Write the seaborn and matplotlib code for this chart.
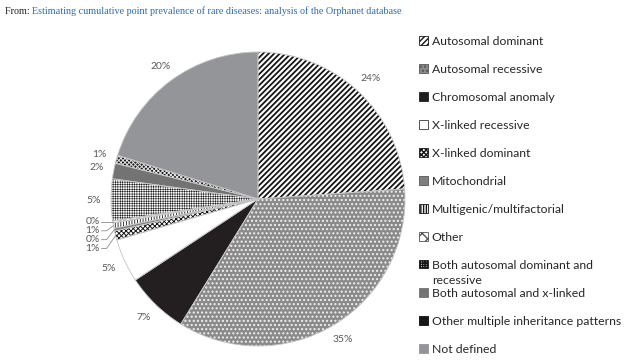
import matplotlib
matplotlib.use("Agg")
import matplotlib.pyplot as plt
import matplotlib.patches as mpatches
import seaborn as sns
import numpy as np

# ---------------- data ----------------
categories = [
    "Autosomal dominant",
    "Autosomal recessive",
    "Chromosomal anomaly",
    "X-linked recessive",
    "X-linked dominant",
    "Mitochondrial",
    "Multigenic/multifactorial",
    "Other",
    "Both autosomal dominant and\nrecessive",
    "Both autosomal and x-linked",
    "Other multiple inheritance patterns",
    "Not defined",
]
shares = [23.9, 34.9, 6.9, 4.8, 1.0, 0.3, 0.6, 0.2, 4.6, 1.7, 0.9, 20.2]
title_prefix = "From: "
title_link = "Estimating cumulative point prevalence of rare diseases: analysis of the Orphanet database"

# ---------------- styles ----------------
fills = ["white", "#8a8a8a", "#231f20", "white", "white", "#7f7f7f",
         "white", "white", "white", "#737373", "#1c1c1c", "#939598"]
hatch_cols = ["#151515", "#f0f0f0", "#231f20", "white", "#151515", "#7f7f7f",
              "#151515", "#555555", "#222222", "#737373", "#e0e0e0", "#939598"]
hatches = ["//////", "....", None, None, "xxxxxxx", None, "||||||", "xxx",
           "+++++++", None, "xxxxxxxx", None]
hatch_lws = [1.3, 1.0, 1.0, 1.0, 0.7, 1.0, 0.6, 0.5, 0.4, 1.0, 0.7, 1.0]
legend_edges = ["#151515", "#555555", "#231f20", "#333333", "#151515", "#555555",
                "#151515", "#555555", "#151515", "#737373", "#151515", "#939598"]

sns.set_theme(style="white")
plt.rcParams["font.family"] = ["Lato", "DejaVu Sans"]

W, H = 630, 360
fig = plt.figure(figsize=(W / 100, H / 100), dpi=100)
fig.patch.set_facecolor("white")

# pie center / radius in pixels
cx, cy, R = 258, 199, 147
half = 1.25 * R
ax = fig.add_axes([(cx - half) / W, (H - cy - half) / H, 2 * half / W, 2 * half / H])

wedges, _ = ax.pie(shares, startangle=90, counterclock=False, colors=fills,
                   radius=1, wedgeprops=dict(linewidth=0))
for w, h, hc, hlw in zip(wedges, hatches, hatch_cols, hatch_lws):
    w.set_edgecolor(hc)
    w.set_linewidth(0)
    if h:
        w.set_hatch(h)
        if hasattr(w, "set_hatch_linewidth"):
            w.set_hatch_linewidth(hlw)

# outline
ax.pie(shares, startangle=90, counterclock=False, radius=1,
       wedgeprops=dict(linewidth=0.6, edgecolor="#c4c4c4", fill=False))
ax.set_xlim(-1.25, 1.25)
ax.set_ylim(-1.25, 1.25)
ax.set_aspect("equal")
ax.axis("off")

# ---------------- percent labels ----------------
lab_kw = dict(fontsize=7.5, color="#595959", ha="center", va="center")
small = [4, 5, 6, 7]
mids = [np.deg2rad((w.theta1 + w.theta2) / 2) for w in wedges]
top_small_y = np.sin(mids[7])
for i, (w, v) in enumerate(zip(wedges, shares)):
    txt = f"{v:.0f}%"
    a = mids[i]
    if i in small:
        k = 7 - i
        ly = top_small_y - 0.06 * k
        lx = -1.075
        ex, ey = np.cos(a), np.sin(a)
        ax.plot([lx + 0.01, lx + 0.045, ex], [ly, ly, ey], color="#8c8c8c", lw=0.6)
        ax.text(lx, ly, txt, fontsize=7.5, color="#595959", ha="right", va="center")
    else:
        ax.text(1.12 * np.cos(a), 1.12 * np.sin(a), txt, **lab_kw)

# ---------------- legend ----------------
handles = []
for f, h, e, hlw in zip(fills, hatches, legend_edges, hatch_lws):
    p = mpatches.Patch(facecolor=f, edgecolor=e, hatch=h, linewidth=0.6)
    handles.append(p)

leg_kw = dict(loc="upper left", frameon=False, fontsize=8.8, handlelength=0.7,
              handleheight=0.7, handletextpad=0.35, labelspacing=1.39,
              borderaxespad=0, borderpad=0)
split = 9
leg1 = fig.legend(handles[:split], categories[:split],
                  bbox_to_anchor=(419 / W, 1 - 36 / H), **leg_kw)
leg2 = fig.legend(handles[split:], categories[split:],
                  bbox_to_anchor=(419 / W, 1 - 288 / H), **leg_kw)
for lg in (leg1, leg2):
    for t in lg.get_texts():
        t.set_color("#262626")
        if "\n" in t.get_text():
            t.set_linespacing(1.45)
# align the two-line entry's square with its first line
try:
    col = leg1._legend_handle_box.get_children()[0]
    item = col.get_children()[-1]
    item.align = "top"
except Exception:
    pass

# ---------------- title ----------------
t1 = fig.text(5 / W, 1 - 11 / H, title_prefix, fontsize=7.3, color="#222222",
              family=["Liberation Serif"], va="center", ha="left")
fig.canvas.draw()
bb = t1.get_window_extent()
fig.text(bb.x1 / W, 1 - 11 / H, title_link, fontsize=7.3, color="#2b6cb0",
         family=["Liberation Serif"], va="center", ha="left")

fig.savefig("out.png", dpi=100)
